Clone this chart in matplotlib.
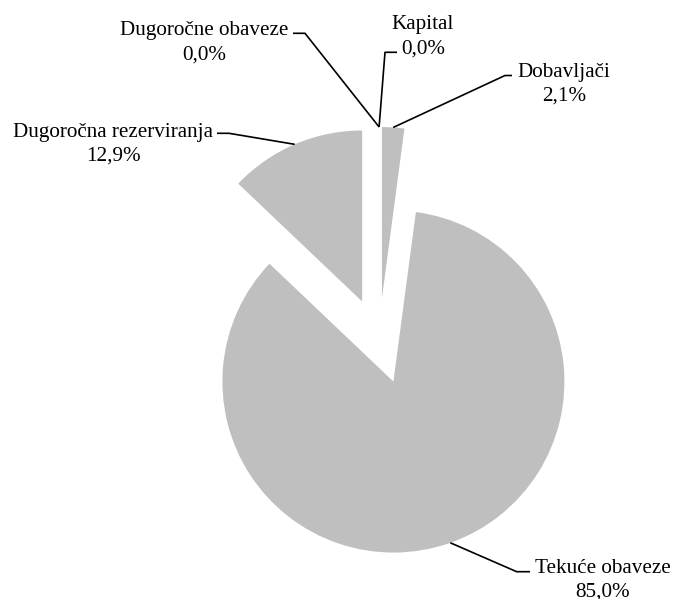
import numpy as np
import matplotlib.pyplot as plt

# data
categories = ['Kapital', 'Dobavljači', 'Tekuće obaveze',
              'Dugoročna rezerviranja', 'Dugoročne obaveze']
shares = [0.0, 2.1, 85.0, 12.9, 0.0]
pct_labels = ['0,0%', '2,1%', '85,0%', '12,9%', '0,0%']

W, H = 673, 599

# label layout in pixel coords (x, y from top): text centre x, baseline of
# first line, baseline of second line, elbow point, end of horizontal stub
layout = {
    'Kapital': (423, 29.5, 53.5, (385, 52.3), (397, 52.3)),
    'Dobavljači': (564, 77.3, 100.5, (505, 75.5), (512, 75.5)),
    'Tekuće obaveze': (603, 573.3, 596.5, (516.7, 571.7), (530, 571.7)),
    'Dugoročna rezerviranja': (113, 136.7, 161, (229, 133.3), (217, 133.3)),
    'Dugoročne obaveze': (204, 35, 59.5, (305, 33.3), (293, 33.3)),
}

plt.rcParams['font.family'] = ['Liberation Serif', 'DejaVu Serif']

fig = plt.figure(figsize=(W / 100, H / 100), dpi=100)
ax = fig.add_axes([0, 0, 1, 1])
ax.set_xlim(0, W)
ax.set_ylim(0, H)
ax.set_aspect('equal')
ax.axis('off')

radius = 171
wedges, _ = ax.pie(shares, radius=radius, center=(379.1, H - 341),
                   explode=[43] * len(shares), startangle=90,
                   counterclock=False, colors=['#bfbfbf'] * len(shares),
                   wedgeprops=dict(linewidth=0))
ax.set_xlim(0, W)
ax.set_ylim(0, H)

fs = 15.2
for w, name, pct in zip(wedges, categories, pct_labels):
    ang = np.deg2rad((w.theta1 + w.theta2) / 2)
    cx, cy = w.center
    px = cx + w.r * np.cos(ang)
    py = cy + w.r * np.sin(ang)
    tx, b1, b2, elbow, stub = layout[name]
    ax.plot([px, elbow[0], stub[0]], [py, H - elbow[1], H - stub[1]],
            color='black', lw=1.2, solid_capstyle='butt')
    ax.text(tx, H - b1, name, ha='center', va='baseline', fontsize=fs)
    ax.text(tx, H - b2, pct, ha='center', va='baseline', fontsize=fs)

fig.savefig('out.png', dpi=100)
